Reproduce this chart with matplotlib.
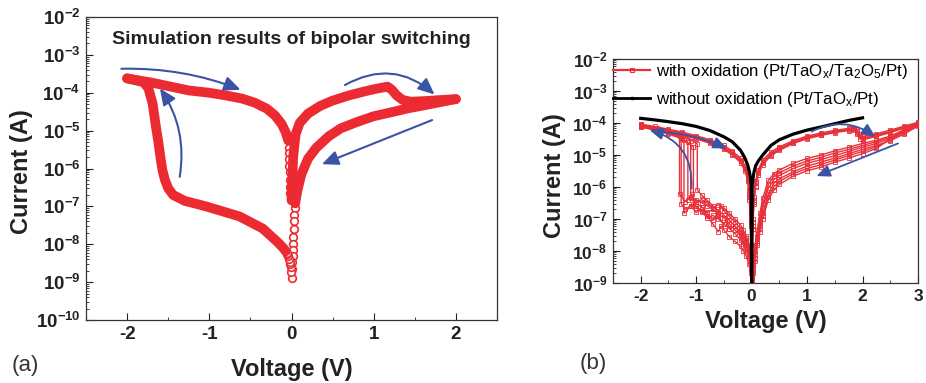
import math
import matplotlib
matplotlib.use("Agg")
import matplotlib.pyplot as plt
from matplotlib.patches import FancyArrowPatch
from matplotlib.ticker import LogLocator, FuncFormatter, MultipleLocator, NullFormatter

plt.rcParams['font.family'] = 'Liberation Sans'
plt.rcParams['mathtext.fontset'] = 'custom'
plt.rcParams['mathtext.rm'] = 'Liberation Sans'
plt.rcParams['mathtext.bf'] = 'Liberation Sans:bold'
plt.rcParams['mathtext.it'] = 'Liberation Sans:italic'
plt.rcParams['axes.unicode_minus'] = False

RED_A = "#ec2a32"
RED_B = "#e8303a"
BLUE = "#3a53a4"

# ---------------- (a) simulation ----------------
# LRS, sweep -2 V -> 0
a_lrs_neg_v = [-2.0, -1.85, -1.7, -1.5, -1.25, -1.0, -0.8, -0.6, -0.45, -0.3, -0.2, -0.12, -0.07, -0.04]
a_lrs_neg_i = [2.4e-4, 2.1e-4, 1.85e-4, 1.5e-4, 1.15e-4, 1.0e-4, 8.5e-5, 7e-5, 5.5e-5, 3.8e-5, 2.5e-5, 1.5e-5, 9e-6, 5.5e-6]
# LRS near 0 (open circles)
a_lrs_tail_v = [-0.035, -0.032, -0.03, -0.027, -0.024, -0.021, -0.018, -0.015, -0.012]
a_lrs_tail_i = [3.5e-6, 2.5e-6, 1.8e-6, 1.2e-6, 8e-7, 5e-7, 3.3e-7, 2.2e-7, 1.5e-7]
# LRS, sweep 0 -> 2 V with reset
a_lrs_pos_v = [0.0, 0.02, 0.05, 0.1, 0.2, 0.35, 0.5, 0.7, 0.9, 1.05, 1.17, 1.22, 1.28, 1.35, 1.45, 1.6, 1.8, 2.0]
a_lrs_pos_i = [1.5e-7, 2e-6, 8e-6, 1.6e-5, 2.8e-5, 4.5e-5, 6.2e-5, 8.5e-5, 1.1e-4, 1.3e-4, 1.45e-4, 1.2e-4, 8.5e-5, 6.5e-5, 5.8e-5, 6e-5, 6.4e-5, 6.8e-5]
# HRS, sweep 2 V -> 0
a_hrs_pos_v = [2.0, 1.8, 1.6, 1.4, 1.2, 1.0, 0.8, 0.6, 0.45, 0.3, 0.2, 0.12, 0.07, 0.045]
a_hrs_pos_i = [6.8e-5, 5.6e-5, 4.6e-5, 3.8e-5, 3.0e-5, 2.4e-5, 1.7e-5, 1.15e-5, 7e-6, 3.5e-6, 1.8e-6, 7e-7, 2.5e-7, 1.2e-7]
a_hrs_tail_v = [0.04, 0.035, 0.03, 0.027, 0.024, 0.02, 0.017, 0.014, 0.01, 0.006, 0.0, -0.005, -0.01, -0.015, -0.02, -0.03, -0.04, -0.05, -0.06]
a_hrs_tail_i = [9e-8, 6e-8, 4e-8, 2.5e-8, 1.6e-8, 1e-8, 7e-9, 5e-9, 3.5e-9, 2.2e-9, 1.3e-9, 1.8e-9, 2.5e-9, 3e-9, 3.5e-9, 4.2e-9, 5e-9, 5.5e-9, 6e-9]
# HRS, sweep 0 -> -2 V with set
a_hrs_neg_v = [-0.07, -0.1, -0.18, -0.35, -0.63, -1.04, -1.3, -1.44, -1.5, -1.54, -1.57, -1.59, -1.62, -1.65, -1.69, -1.74, -1.8, -2.0]
a_hrs_neg_i = [6.5e-9, 8e-9, 1.2e-8, 2.6e-8, 5.4e-8, 1e-7, 1.4e-7, 2e-7, 3e-7, 5e-7, 9e-7, 1.7e-6, 5e-6, 1.3e-5, 5.2e-5, 1.3e-4, 1.9e-4, 2.4e-4]

a_title = "Simulation results of bipolar switching"

# ---------------- (b) experiment ----------------
b_black_v = [-2.0, -1.75, -1.5, -1.25, -1.0, -0.75, -0.5, -0.35, -0.2, -0.12, -0.07, -0.04, -0.02, -0.01,
             0.0, 0.01, 0.02, 0.04, 0.07, 0.12, 0.2, 0.35, 0.5, 0.75, 1.0, 1.25, 1.5, 1.75, 2.0]
b_black_i = [1.4e-4, 1.25e-4, 1.1e-4, 9.5e-5, 7.8e-5, 5.8e-5, 3.7e-5, 2.6e-5, 1.4e-5, 8e-6, 4.8e-6, 3e-6, 1.8e-6, 1.2e-6,
             1e-9, 1.2e-6, 1.6e-6, 2.8e-6, 4.5e-6, 6.5e-6, 1e-5, 2e-5, 3e-5, 4.5e-5, 6e-5, 7.5e-5, 9.5e-5, 1.2e-4, 1.45e-4]

# negative LRS sweeps (-2 V -> 0), four cycles
b_lrs_neg_v = [-2.0, -1.75, -1.5, -1.25, -1.0, -0.75, -0.5, -0.35, -0.2, -0.12, -0.07, -0.04, -0.02, -0.01, 0.0]
b_lrs_neg_i = [
    [8.7e-5, 7.2e-5, 6e-5, 4.8e-5, 3.7e-5, 2.7e-5, 1.8e-5, 1.2e-5, 7e-6, 4e-6, 2e-6, 6e-7, 1e-7, 1e-8, 1.5e-9],
    [7.5e-5, 6.2e-5, 5.1e-5, 4.1e-5, 3.2e-5, 2.3e-5, 1.5e-5, 1e-5, 5.8e-6, 3.2e-6, 1.5e-6, 4e-7, 6e-8, 6e-9, 1.2e-9],
    [9.2e-5, 7.8e-5, 6.4e-5, 5.2e-5, 4e-5, 3e-5, 2e-5, 1.35e-5, 8e-6, 4.6e-6, 2.4e-6, 8e-7, 1.5e-7, 1.5e-8, 2e-9],
    [8.2e-5, 6.8e-5, 5.6e-5, 4.5e-5, 3.5e-5, 2.5e-5, 1.65e-5, 1.1e-5, 6.4e-6, 3.6e-6, 1.8e-6, 5e-7, 8e-8, 8e-9, 1.3e-9],
]

# negative HRS sweeps (0 -> -2 V) with set jumps, seven cycles
b_hrs_neg_v = [
    [0, -0.02, -0.05, -0.1, -0.15, -0.2, -0.3, -0.4, -0.5, -0.6, -0.7, -0.8, -0.9, -1.0, -1.1, -1.2, -1.3, -1.3, -1.5, -1.75, -2.0],
    [0, -0.02, -0.05, -0.1, -0.15, -0.2, -0.3, -0.4, -0.5, -0.55, -0.6, -0.7, -0.8, -0.9, -1.0, -1.05, -1.05, -1.25, -1.5, -1.75, -2.0],
    [0, -0.02, -0.05, -0.1, -0.15, -0.2, -0.3, -0.4, -0.5, -0.55, -0.6, -0.7, -0.8, -0.9, -1.0, -1.1, -1.22, -1.22, -1.5, -1.75, -2.0],
    [0, -0.02, -0.05, -0.1, -0.15, -0.2, -0.3, -0.4, -0.5, -0.6, -0.7, -0.8, -0.9, -1.0, -1.08, -1.15, -1.15, -1.4, -1.7, -2.0],
    [0, -0.02, -0.05, -0.1, -0.15, -0.2, -0.3, -0.4, -0.5, -0.6, -0.7, -0.8, -0.9, -0.98, -0.98, -1.2, -1.5, -1.75, -2.0],
    [0, -0.02, -0.05, -0.1, -0.15, -0.2, -0.3, -0.4, -0.45, -0.5, -0.6, -0.7, -0.8, -0.9, -1.0, -1.1, -1.2, -1.27, -1.27, -1.5, -1.75, -2.0],
    [0, -0.02, -0.05, -0.1, -0.15, -0.2, -0.3, -0.4, -0.5, -0.6, -0.7, -0.8, -0.9, -1.0, -1.1, -1.1, -1.3, -1.6, -2.0],
]
b_hrs_neg_i = [
    [1.2e-9, 3e-9, 8e-9, 1.5e-8, 2e-8, 3e-8, 4.5e-8, 7e-8, 1.1e-7, 1.4e-7, 2e-7, 2.6e-7, 3.2e-7, 4e-7, 5e-7, 3.5e-7, 6e-7, 4e-5, 5.6e-5, 7e-5, 8.5e-5],
    [1e-9, 2e-9, 4e-9, 7e-9, 1e-8, 1.4e-8, 2e-8, 2.8e-8, 4.5e-8, 6e-8, 4e-8, 7e-8, 1.2e-7, 1.8e-7, 2.5e-7, 3e-7, 1.8e-5, 3.2e-5, 4.5e-5, 6e-5, 7.5e-5],
    [1.5e-9, 5e-9, 1.2e-8, 2.5e-8, 3.5e-8, 5e-8, 8e-8, 1.2e-7, 1.8e-7, 2.6e-7, 1.5e-7, 2e-7, 1.6e-7, 2.4e-7, 3e-7, 2.5e-7, 1.5e-7, 3e-5, 5e-5, 6.5e-5, 8e-5],
    [1e-9, 2.5e-9, 6e-9, 1.1e-8, 1.6e-8, 2.2e-8, 3.5e-8, 5e-8, 7e-8, 1e-7, 1.3e-7, 1.1e-7, 1.7e-7, 2.2e-7, 6e-7, 4e-7, 2.5e-5, 4.8e-5, 6.8e-5, 9e-5],
    [1.3e-9, 4e-9, 1e-8, 1.8e-8, 2.8e-8, 4e-8, 6e-8, 9e-8, 1.3e-7, 1.8e-7, 2.6e-7, 3.8e-7, 5.5e-7, 8e-7, 2.2e-5, 4e-5, 5.5e-5, 7e-5, 8.8e-5],
    [1.1e-9, 3.5e-9, 9e-9, 2e-8, 2.4e-8, 3.2e-8, 6e-8, 5e-8, 9e-8, 7e-8, 1.2e-7, 9e-8, 1.5e-7, 2e-7, 1.6e-7, 2.6e-7, 2e-7, 3e-7, 3.5e-5, 5.2e-5, 6.6e-5, 8.2e-5],
    [1.4e-9, 4.5e-9, 1.4e-8, 3e-8, 4.5e-8, 6.5e-8, 1e-7, 1.5e-7, 2.2e-7, 2.8e-7, 2.2e-7, 3.2e-7, 4e-7, 3.5e-7, 4.5e-7, 2.8e-5, 4.4e-5, 6e-5, 8.6e-5],
]

# positive sweeps: LRS 0 -> reset -> 3 V, four cycles
b_lrs_pos_v = [0.0, 0.01, 0.02, 0.04, 0.07, 0.12, 0.2, 0.35, 0.5, 0.75, 1.0, 1.25, 1.5, 1.75, 1.85,
               1.9, 1.95, 2.0, 2.25, 2.5, 2.75, 3.0]
b_lrs_pos_i = [
    [1.5e-9, 1e-8, 8e-8, 4e-7, 1.3e-6, 3e-6, 6e-6, 1.1e-5, 1.6e-5, 2.6e-5, 3.6e-5, 4.5e-5, 5.5e-5, 6.4e-5, 6.9e-5,
     5e-5, 3.8e-5, 3.4e-5, 4.2e-5, 5.5e-5, 7.5e-5, 1e-4],
    [1.2e-9, 6e-9, 5e-8, 3e-7, 1e-6, 2.4e-6, 5e-6, 9.5e-6, 1.4e-5, 2.3e-5, 3.2e-5, 4.1e-5, 5e-5, 5.8e-5, 6.2e-5,
     4.5e-5, 3.2e-5, 3e-5, 3.8e-5, 5e-5, 7e-5, 9e-5],
    [2e-9, 1.5e-8, 1e-7, 5e-7, 1.5e-6, 3.5e-6, 7e-6, 1.25e-5, 1.8e-5, 2.8e-5, 3.9e-5, 4.9e-5, 5.9e-5, 6.8e-5, 7.2e-5,
     6.5e-5, 4.5e-5, 3.8e-5, 4.6e-5, 6e-5, 8e-5, 1.05e-4],
    [1.3e-9, 8e-9, 6e-8, 3.5e-7, 1.1e-6, 2.7e-6, 5.5e-6, 1e-5, 1.5e-5, 2.45e-5, 3.4e-5, 4.3e-5, 5.2e-5, 6.1e-5, 6.6e-5,
     5.5e-5, 4e-5, 3.2e-5, 4e-5, 5.2e-5, 7.2e-5, 9.5e-5],
]
# positive HRS return 3 V -> 0, six cycles
b_hrs_pos_v = [3.0, 2.75, 2.5, 2.25, 2.0, 1.75, 1.5, 1.25, 1.0, 0.75, 0.5, 0.4, 0.3, 0.2, 0.15, 0.1, 0.06, 0.03, 0.01, 0.0]
b_hrs_pos_i = [
    [9e-5, 5.5e-5, 3.6e-5, 2.6e-5, 2.0e-5, 1.5e-5, 1.15e-5, 8.5e-6, 6.5e-6, 4.5e-6, 2.8e-6, 2.2e-6, 1.2e-6, 3e-7, 1e-7, 3e-8, 1e-8, 4e-9, 2e-9, 1.2e-9],
    [8e-5, 4.5e-5, 2.8e-5, 2.0e-5, 1.5e-5, 1.1e-5, 8e-6, 6e-6, 4.5e-6, 3e-6, 1.8e-6, 1.3e-6, 6e-7, 1.5e-7, 6e-8, 2e-8, 6e-9, 3e-9, 1.5e-9, 1e-9],
    [9.5e-5, 6e-5, 3.2e-5, 1.6e-5, 1.1e-5, 8e-6, 6e-6, 4.2e-6, 3.2e-6, 2.2e-6, 1.2e-6, 8e-7, 4e-7, 1e-7, 4e-8, 1.5e-8, 5e-9, 2e-9, 1.3e-9, 1e-9],
    [8.5e-5, 5e-5, 3.3e-5, 2.3e-5, 1.75e-5, 1.3e-5, 9.5e-6, 7.2e-6, 5.5e-6, 3.8e-6, 2.3e-6, 1.7e-6, 9e-7, 2.2e-7, 8e-8, 2.5e-8, 8e-9, 3.5e-9, 1.8e-9, 1.1e-9],
    [1e-4, 6.2e-5, 3.9e-5, 2.9e-5, 2.3e-5, 1.75e-5, 1.35e-5, 1e-5, 7.8e-6, 5.5e-6, 3.4e-6, 2.6e-6, 1.6e-6, 4.5e-7, 1.5e-7, 4.5e-8, 1.4e-8, 5e-9, 2.2e-9, 1.3e-9],
    [8.8e-5, 5.2e-5, 3e-5, 1.8e-5, 1.3e-5, 9.5e-6, 7e-6, 5e-6, 3.8e-6, 2.6e-6, 1.5e-6, 1e-6, 5e-7, 1.2e-7, 5e-8, 1.8e-8, 5.5e-9, 2.5e-9, 1.4e-9, 1e-9],
]

b_label_red = r"with oxidation (Pt/TaO$_{\mathrm{x}}$/Ta$_{\mathrm{2}}$O$_{\mathrm{5}}$/Pt)"
b_label_black = r"without oxidation (Pt/TaO$_{\mathrm{x}}$/Pt)"


def style_axes(ax, ymin, ymax, xmin, xmax, tsize):
    ax.set_yscale("log")
    ax.set_ylim(ymin, ymax)
    ax.set_xlim(xmin, xmax)
    ax.yaxis.set_major_locator(LogLocator(base=10, numticks=20))
    ax.yaxis.set_minor_locator(LogLocator(base=10, subs=range(2, 10), numticks=20))
    ax.yaxis.set_minor_formatter(NullFormatter())
    ax.yaxis.set_major_formatter(FuncFormatter(
        lambda v, p: r"$\mathbf{10^{%d}}$" % round(math.log10(v))))
    ax.xaxis.set_major_locator(MultipleLocator(1))
    ax.xaxis.set_minor_locator(MultipleLocator(0.5))
    ax.xaxis.set_major_formatter(FuncFormatter(lambda v, p: "%d" % round(v)))
    ax.tick_params(which="both", direction="in", top=False, right=False, colors="#222222")
    ax.tick_params(which="major", length=5, width=0.8, labelsize=tsize, pad=4)
    ax.tick_params(which="minor", length=2.5, width=0.6)
    for lab in ax.get_xticklabels():
        lab.set_fontweight("bold")
    for spine in ax.spines.values():
        spine.set_edgecolor("#333333")
        spine.set_linewidth(0.9)


def arrow(ax, a, b, rad, lw=1.5, ms=11):
    ax.add_patch(FancyArrowPatch(a, b, connectionstyle="arc3,rad=%s" % rad,
                                 arrowstyle="-|>,head_length=0.9,head_width=0.4",
                                 mutation_scale=ms, color=BLUE, lw=lw,
                                 shrinkA=0, shrinkB=0, zorder=6))


fig = plt.figure(figsize=(9.26, 3.83), dpi=100)

# ---- panel (a)
ax1 = fig.add_axes([86 / 926, 63 / 383, 411 / 926, 303 / 383])
style_axes(ax1, 1e-10, 1e-2, -2.5, 2.5, 13.5)

band = dict(color=RED_A, lw=7, solid_capstyle="round", solid_joinstyle="round", zorder=3)
circ = dict(ls="none", marker="o", ms=5.5, mfc="white", mec=RED_A, mew=1.2, zorder=2)
ax1.plot(a_lrs_tail_v, a_lrs_tail_i, **circ)
ax1.plot(a_hrs_tail_v, a_hrs_tail_i, **circ)
ax1.plot(a_lrs_neg_v, a_lrs_neg_i, **band)
ax1.plot(a_lrs_pos_v, a_lrs_pos_i, **band)
ax1.plot(a_hrs_pos_v, a_hrs_pos_i, **band)
ax1.plot(a_hrs_neg_v, a_hrs_neg_i, **band)

arrow(ax1, (-2.07, 4.3e-4), (-0.62, 1.2e-4), -0.1)
arrow(ax1, (-1.36, 6e-7), (-1.6, 1.3e-4), 0.2)
arrow(ax1, (0.65, 1.6e-4), (1.74, 9e-5), -0.35)
arrow(ax1, (1.71, 1.9e-5), (0.37, 1.3e-6), 0.0)

ax1.text(0.5, 0.927, a_title, transform=ax1.transAxes, ha="center", va="center",
         fontsize=14, fontweight="bold", color="#222222")
ax1.set_xlabel("Voltage (V)", fontsize=17, fontweight="bold", color="#222222")
ax1.set_ylabel("Current (A)", fontsize=17, fontweight="bold", color="#222222")
ax1.xaxis.set_label_coords(0.5, -0.125)
ax1.yaxis.set_label_coords(-0.13, 0.49)

# ---- panel (b)
ax2 = fig.add_axes([613 / 926, 100 / 383, 305 / 926, 224 / 383])
style_axes(ax2, 1e-9, 1e-2, -2.5, 3.0, 12.5)

rl = dict(color=RED_B, lw=1.0, marker="s", ms=3, mfc="none", mew=0.6, zorder=3)
for cyc in b_lrs_neg_i:
    ax2.plot(b_lrs_neg_v, cyc, **rl)
for v, cyc in zip(b_hrs_neg_v, b_hrs_neg_i):
    ax2.plot(v, cyc, **rl)
for cyc in b_lrs_pos_i:
    ax2.plot(b_lrs_pos_v, cyc, **rl)
for cyc in b_hrs_pos_i:
    ax2.plot(b_hrs_pos_v, cyc, **rl)
ax2.plot(b_black_v, b_black_i, color="black", lw=2.3, zorder=4)

# legend handles
ax2.plot([], [], color=RED_B, lw=1.6, marker="s", ms=3, mfc="none", mew=0.8, label=b_label_red)
ax2.plot([], [], color="black", lw=2.0, marker="s", ms=2, label=b_label_black)
handles, labels = ax2.get_legend_handles_labels()
leg = ax2.legend(handles[-2:], labels[-2:], loc="upper left", bbox_to_anchor=(0.0, 0.985),
                 frameon=False, fontsize=12.2, handlelength=2.2, handletextpad=0.35,
                 borderpad=0, borderaxespad=0, labelspacing=0.5, numpoints=1)

arrow(ax2, (-1.085, 9e-7), (-1.84, 6e-5), 0.4, lw=1.3, ms=9)
arrow(ax2, (-1.72, 5.4e-5), (-0.45, 1.6e-5), -0.1, lw=1.3, ms=9)
arrow(ax2, (1.08, 5.4e-5), (2.23, 3.7e-5), -0.3, lw=1.3, ms=9)
arrow(ax2, (2.64, 2.3e-5), (1.17, 2.2e-6), 0.0, lw=1.3, ms=9)

ax2.set_xlabel("Voltage (V)", fontsize=17, fontweight="bold", color="#222222")
ax2.set_ylabel("Current (A)", fontsize=17, fontweight="bold", color="#222222")
ax2.xaxis.set_label_coords(0.5, -0.12)
ax2.yaxis.set_label_coords(-0.154, 0.478)

fig.text(25 / 926, 1 - 366 / 383, "(a)", fontsize=16, ha="center", va="center", color="#333333")
fig.text(593 / 926, 1 - 363 / 383, "(b)", fontsize=16, ha="center", va="center", color="#333333")

plt.savefig("out.png", dpi=100)
plt.close()
